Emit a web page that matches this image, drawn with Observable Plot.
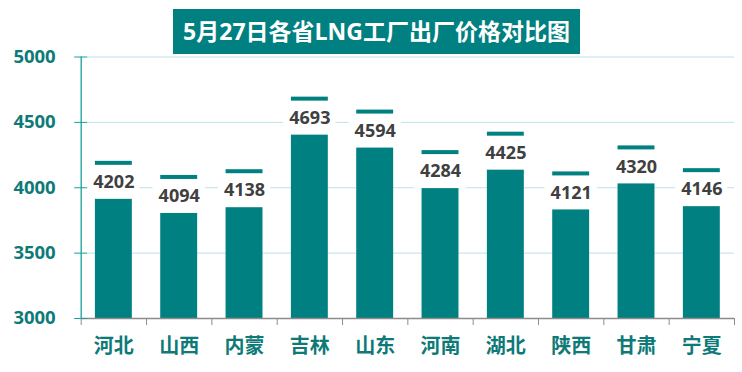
<!DOCTYPE html>
<html><head><meta charset="utf-8">
<script src="https://cdn.jsdelivr.net/npm/d3@7"></script>
<script src="https://cdn.jsdelivr.net/npm/@observablehq/plot@0.6"></script>
<style>
body{margin:0;background:#fff;}
#wrap{position:relative;width:742px;height:372px;}
#title{position:absolute;left:173px;top:9px;width:407px;height:45px;background:#008080;color:#fff;font-family:"Open Sans","Noto Sans CJK SC",sans-serif;font-weight:bold;font-size:23px;text-align:center;line-height:45px;}
svg{display:block;}
</style></head><body>
<div id="wrap"><div id="title"></div></div>
<script>
const titleText = "5月27日各省LNG工厂出厂价格对比图";
const provinces = ["河北","山西","内蒙","吉林","山东","河南","湖北","陕西","甘肃","宁夏"];
const prices = [4202,4094,4138,4693,4594,4284,4425,4121,4320,4146];
const yTicks = [3000,3500,4000,4500,5000];

document.getElementById("title").textContent = titleText;

const data = provinces.map((p, i) => ({p, v: prices[i], i}));
const xBounds = d3.range(provinces.length + 1);
const xCenters = provinces.map((p, i) => i + 0.5);
const teal = "#008080";
const tealText = "#0e7a78";
const yMin = yTicks[0], yMax = yTicks[yTicks.length - 1];

const chart = Plot.plot({
  width: 742,
  height: 372,
  marginTop: 56.5,
  marginBottom: 54,
  marginLeft: 80.7,
  marginRight: 8,
  style: {fontFamily: '"Open Sans","Noto Sans CJK SC",sans-serif', background: "#fff"},
  x: {domain: [0, provinces.length], axis: null},
  y: {domain: [yMin, yMax], axis: null},
  marks: [
    Plot.gridY(yTicks, {stroke: "#bfe1ea", strokeOpacity: 1, insetLeft: 6.5}),
    Plot.rect(data, {x1: "i", x2: d => d.i + 1, y1: () => yMin, y2: "v", fill: teal, insetLeft: 14.2, insetRight: 14.2}),
    Plot.rect(data, {x1: "i", x2: d => d.i + 1, y1: "v", y2: "v", fill: "#fff", insetLeft: 6.5, insetRight: 6.5, insetTop: 4, insetBottom: -38}),
    Plot.text(data, {x: d => d.i + 0.5, y: "v", text: d => String(d.v), dy: 21, fill: "#404040", fontWeight: "bold", fontSize: 18}),
    Plot.ruleY([yMin], {stroke: "#8c8c8c", strokeWidth: 1.3}),
    Plot.ruleX([xBounds[0]], {y1: yMin, y2: yMax, stroke: "#17a09b", strokeWidth: 1.3}),
    Plot.axisY({ticks: yTicks, label: null, tickSize: 13, dx: 6.5, tickPadding: 19, stroke: "#17a09b", fill: tealText, fontSize: 18.5, fontWeight: "bold", tickFormat: d => String(d)}),
    Plot.axisX({ticks: xBounds, label: null, tickSize: 7, stroke: "#8c8c8c", tickFormat: () => ""}),
    Plot.axisX({ticks: xCenters, label: null, tickSize: 0, tickPadding: 20, fontSize: 20, fontWeight: "bold", fill: tealText, tickFormat: d => provinces[Math.floor(d)]})
  ]
});
document.getElementById("wrap").appendChild(chart);
</script>
</body></html>
